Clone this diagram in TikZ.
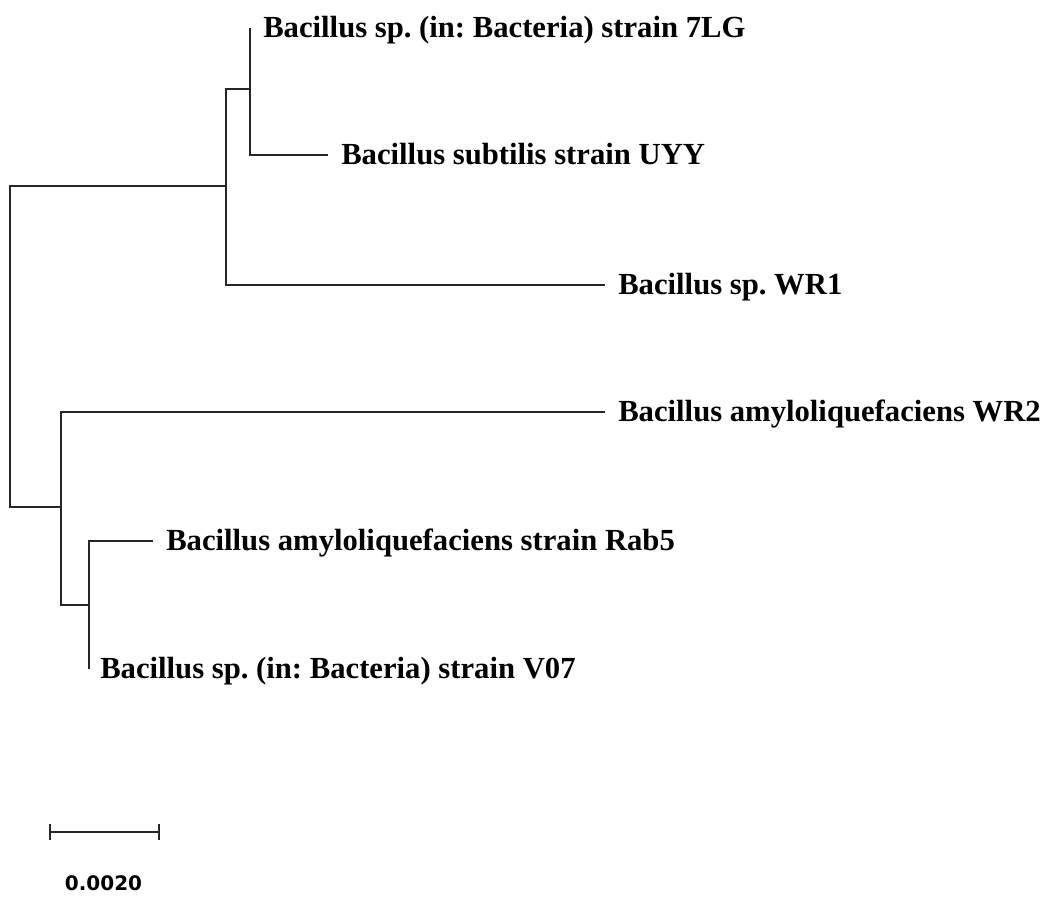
\documentclass[tikz,border=0pt]{standalone}
\usepackage{fontspec}
\setmainfont{Liberation Serif}
\newfontfamily\barfont{DejaVu Sans}
\usetikzlibrary{positioning,arrows.meta}
\frenchspacing
\tikzset{
  branch/.style={
    line width=1.8pt,
    draw=black!85,
  },
  taxon/.style={
    anchor=west,
    inner sep=0pt,
    text height=14.1pt,
    text depth=0pt,
    font=\fontsize{23}{27}\selectfont\bfseries,
  },
  bar label/.style={
    inner sep=0pt,
    font=\barfont\fontsize{15}{17}\selectfont\bfseries,
  }
}

\begin{document}
\begin{tikzpicture}[x=0.75pt, y=-0.75pt, node distance=9.75pt]
        \useasboundingbox (0,0) rectangle (1049,898);

        % inner nodes
        \coordinate (root) at (10,346);
        \coordinate (n1) at (226,186);
        \coordinate (n2) at (61,507);
        \coordinate (n3) at (250,89);
        \coordinate (n4) at (89,605);

        % tips
        \coordinate (t7lg) at (250,28);
        \coordinate (tuyy) at (328,155);
        \coordinate (twr1) at (605,285);
        \coordinate (twr2) at (605,412);
        \coordinate (trab5) at (153,541);
        \coordinate (tv07) at (89,669);

        \node [taxon, right=of t7lg] (l7lg) {Bacillus sp. (in: Bacteria) strain 7LG};
        \node [taxon, right=of tuyy] (luyy) {Bacillus subtilis strain UYY};
        \node [taxon, right=of twr1] (lwr1) {Bacillus sp. WR1};
        \node [taxon, right=of twr2] (lwr2) {Bacillus amyloliquefaciens WR2};
        \node [taxon, right=of trab5] (lrab5) {Bacillus amyloliquefaciens strain Rab5};
        \node [taxon, right=8.25pt of tv07] (lv07) {Bacillus sp. (in: Bacteria) strain V07};

        \draw [branch] (root) |- (n1);
        \draw [branch] (root) |- (n2);
        \draw [branch] (n1) |- (n3);
        \draw [branch] (n1) |- (twr1);
        \draw [branch] (n3) |- (t7lg);
        \draw [branch] (n3) |- (tuyy);
        \draw [branch] (n2) |- (twr2);
        \draw [branch] (n2) |- (n4);
        \draw [branch] (n4) |- (trab5);
        \draw [branch] (n4) |- (tv07);

        % scale bar
        \coordinate (s1) at (49,832);
        \coordinate (s2) at (160,832);
        \draw [branch, {Bar[width=12pt]}-{Bar[width=12pt]}] (s1) -- (s2);
        \node [bar label] (sl) at (103.5,883) {0.0020};
    \end{tikzpicture}
\end{document}
